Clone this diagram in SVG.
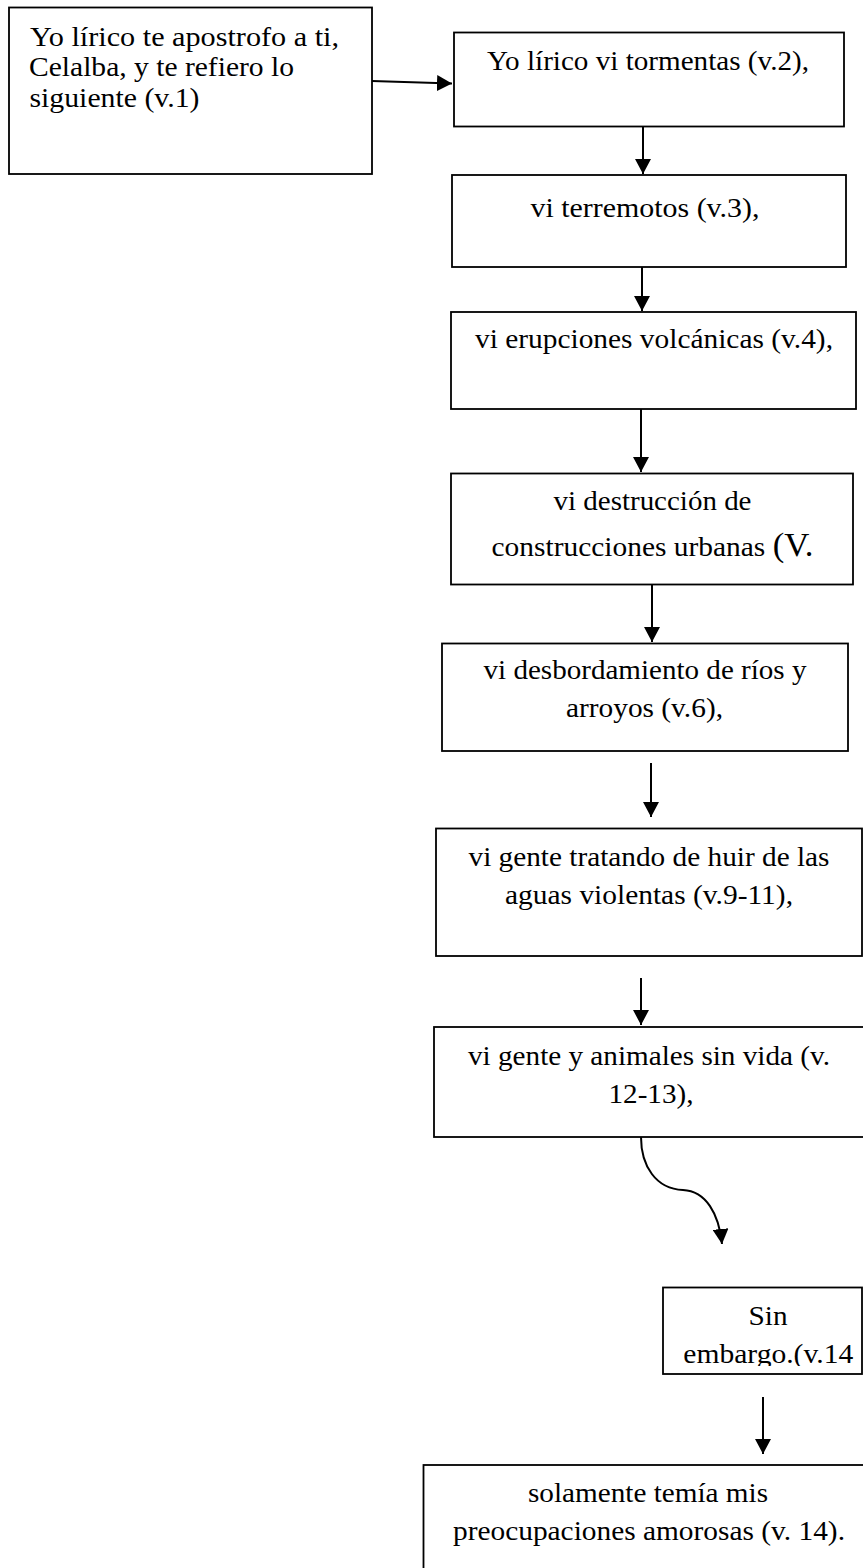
<svg xmlns="http://www.w3.org/2000/svg" width="863" height="1568" viewBox="0 0 863 1568">
<style>
  .box { fill: #ffffff; stroke: #000000; stroke-width: 1.8; }
  .t { font-family: "Liberation Serif", "Times New Roman", serif; font-size: 28px; fill: #000000; }
  .c { text-anchor: middle; }
  .conn { fill: none; stroke: #000000; stroke-width: 2; }
</style>
<defs>
  <marker id="ah" viewBox="0 0 15 16" refX="15" refY="8" markerWidth="15" markerHeight="16" markerUnits="userSpaceOnUse" orient="auto">
    <path d="M0,0 L15,8 L0,16 z" fill="#000000"/>
  </marker>
  <clipPath id="clip9">
    <rect x="663" y="1287" width="199" height="79"/>
  </clipPath>
</defs>
<rect x="0" y="0" width="863" height="1568" fill="#ffffff"/>

<g id="connectors">
  <line class="conn" x1="372" y1="81" x2="452" y2="83.5" marker-end="url(#ah)"/>
  <line class="conn" x1="643" y1="127" x2="643" y2="174" marker-end="url(#ah)"/>
  <line class="conn" x1="642" y1="267" x2="642" y2="311" marker-end="url(#ah)"/>
  <line class="conn" x1="641" y1="409" x2="641" y2="472" marker-end="url(#ah)"/>
  <line class="conn" x1="652" y1="585" x2="652" y2="642" marker-end="url(#ah)"/>
  <line class="conn" x1="651" y1="763" x2="651" y2="817" marker-end="url(#ah)"/>
  <line class="conn" x1="641" y1="978" x2="641" y2="1025" marker-end="url(#ah)"/>
  <path class="conn" d="M641,1137 C641,1166 656,1189 683,1190 C706,1191 719,1214 722,1244" marker-end="url(#ah)"/>
  <line class="conn" x1="763" y1="1397" x2="763" y2="1454" marker-end="url(#ah)"/>
</g>

<g id="node1">
  <rect class="box" x="9" y="7.5" width="363" height="166.5"/>
  <text class="t" x="30" y="45.5" textLength="309" lengthAdjust="spacingAndGlyphs">Yo lírico te apostrofo a ti,</text>
  <text class="t" x="29" y="76" textLength="265" lengthAdjust="spacingAndGlyphs">Celalba, y te refiero lo</text>
  <text class="t" x="29.5" y="106.5" textLength="170" lengthAdjust="spacingAndGlyphs">siguiente (v.1)</text>
</g>

<g id="node2">
  <rect class="box" x="454" y="32.5" width="390" height="94"/>
  <text class="t c" x="648" y="70" textLength="322" lengthAdjust="spacingAndGlyphs">Yo lírico vi tormentas (v.2),</text>
</g>

<g id="node3">
  <rect class="box" x="452" y="175" width="394" height="92"/>
  <text class="t c" x="645" y="216.5" textLength="229" lengthAdjust="spacingAndGlyphs">vi terremotos (v.3),</text>
</g>

<g id="node4">
  <rect class="box" x="451" y="312" width="405" height="97"/>
  <text class="t c" x="654" y="348" textLength="358" lengthAdjust="spacingAndGlyphs">vi erupciones volcánicas (v.4),</text>
</g>

<g id="node5">
  <rect class="box" x="451" y="473.5" width="402" height="111"/>
  <text class="t c" x="652.5" y="510" textLength="198" lengthAdjust="spacingAndGlyphs">vi destrucción de</text>
  <text class="t c" x="652.5" y="556" textLength="322" lengthAdjust="spacingAndGlyphs">construcciones urbanas <tspan font-size="33">(V.</tspan></text>
</g>

<g id="node6">
  <rect class="box" x="442" y="643.5" width="406" height="107.5"/>
  <text class="t c" x="645" y="679" textLength="323" lengthAdjust="spacingAndGlyphs">vi desbordamiento de ríos y</text>
  <text class="t c" x="644.5" y="717" textLength="157" lengthAdjust="spacingAndGlyphs">arroyos (v.6),</text>
</g>

<g id="node7">
  <rect class="box" x="436" y="828.5" width="426" height="127.5"/>
  <text class="t c" x="649" y="866" textLength="361" lengthAdjust="spacingAndGlyphs">vi gente tratando de huir de las</text>
  <text class="t c" x="649" y="904" textLength="288" lengthAdjust="spacingAndGlyphs">aguas violentas (v.9-11),</text>
</g>

<g id="node8">
  <rect class="box" x="434" y="1027" width="440" height="110"/>
  <text class="t c" x="649" y="1065" textLength="362" lengthAdjust="spacingAndGlyphs">vi gente y animales sin vida (v.</text>
  <text class="t c" x="651" y="1103" textLength="85" lengthAdjust="spacingAndGlyphs">12-13),</text>
</g>

<g id="node9">
  <rect class="box" x="663" y="1287.5" width="199" height="86.5"/>
  <g clip-path="url(#clip9)">
    <text class="t c" x="768" y="1325" textLength="39" lengthAdjust="spacingAndGlyphs">Sin</text>
    <text class="t c" x="768.3" y="1363" textLength="170" lengthAdjust="spacingAndGlyphs">embargo.(v.14</text>
  </g>
</g>

<g id="node10">
  <rect class="box" x="423.5" y="1465" width="450" height="120"/>
  <text class="t c" x="648" y="1502" textLength="240" lengthAdjust="spacingAndGlyphs">solamente temía mis</text>
  <text class="t c" x="649" y="1540" textLength="392" lengthAdjust="spacingAndGlyphs">preocupaciones amorosas (v. 14).</text>
</g>
</svg>
